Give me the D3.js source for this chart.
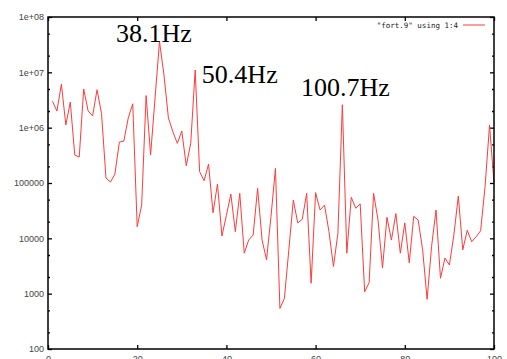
<!DOCTYPE html>
<html>
<head>
<meta charset="utf-8">
<script src="https://cdn.jsdelivr.net/npm/d3@7"></script>
<style>
  body { margin: 0; background: #fff; }
  svg { display: block; }
</style>
</head>
<body>
<div class="svgClass"></div>
<script>
// column 4 of fort.9, one value per row (row 1..100)
var values = [
  3.0e6, 2.0e6, 6.1e6, 1.12e6, 2.9e6, 3.2e5, 2.95e5, 5.0e6, 2.0e6, 1.63e6,
  4.85e6, 1.8e6, 1.23e5, 1.04e5, 1.45e5, 5.5e5, 5.7e5, 1.5e6, 2.7e6, 1.62e4,
  4.0e4, 3.8e6, 3.2e5, 3.4e6, 3.6e7, 9.0e6, 1.5e6, 8.4e5, 5.2e5, 8.7e5,
  2.05e5, 5.2e5, 1.1e7, 1.6e5, 1.1e5, 2.2e5, 2.9e4, 9.6e4, 1.1e4, 2.6e4,
  6.3e4, 1.32e4, 6.5e4, 5.4e3, 9.3e3, 1.15e4, 8.0e4, 9.3e3, 4.1e3, 2.5e4,
  1.84e5, 540, 820, 6.2e3, 4.9e4, 1.9e4, 2.2e4, 6.5e4, 1.54e3, 6.7e4,
  3.25e4, 4.0e4, 1.32e4, 3.1e3, 1.23e4, 2.6e6, 5.4e3, 5.5e4, 3.5e4, 4.2e4,
  1.08e3, 1.58e3, 6.5e4, 2.14e4, 2.9e3, 2.4e4, 9.3e3, 2.8e4, 5.4e3, 1.9e4,
  3.6e3, 2.5e4, 2.14e4, 6.2e3, 790, 7.1e3, 3.25e4, 1.9e3, 4.4e3, 3.3e3,
  1.15e4, 5.8e4, 6.2e3, 1.4e4, 8.7e3, 1.07e4, 1.37e4, 8.6e4, 1.12e6, 9.9e4
];
var xTicks = [0, 20, 40, 60, 80, 100];
var yTicks = [1e2, 1e3, 1e4, 1e5, 1e6, 1e7, 1e8];
var yTickLabels = ["100", "1000", "10000", "100000", "1e+06", "1e+07", "1e+08"];
var peakLabels = ["38.1Hz", "50.4Hz", "100.7Hz"];
var legendText = '"fort.9" using 1:4';

var W = 507, H = 359;
var mLeft = 48, mRight = 494, mTop = 17, mBottom = 349;

var svg = d3.select('.svgClass')
  .append("svg")
  .attr("width", W)
  .attr("height", H);

var x = d3.scaleLinear().domain([0, 100]).range([mLeft, mRight]);
var y = d3.scaleLog().domain([100, 1e8]).range([mBottom, mTop]);

// minor ticks at 2 and 5 of each decade
var minor = [];
yTicks.slice(0, -1).forEach(function (d) { minor.push(d * 2, d * 5); });

var tickFont = "'Liberation Sans', Arial, sans-serif";

// left axis
var yAxis = svg.append("g").attr("transform", "translate(" + mLeft + ",0)")
  .call(d3.axisLeft(y).tickValues(yTicks).tickFormat(function (d, i) { return yTickLabels[i]; })
    .tickSizeInner(-4).tickSizeOuter(0).tickPadding(4));
yAxis.select(".domain").remove();
yAxis.selectAll("text").attr("font-family", tickFont).attr("font-size", 9).attr("fill", "#444");

svg.append("g").attr("transform", "translate(" + mLeft + ",0)")
  .call(d3.axisLeft(y).tickValues(minor).tickFormat("").tickSizeInner(-2).tickSizeOuter(0))
  .select(".domain").remove();

// right axis (mirror)
svg.append("g").attr("transform", "translate(" + mRight + ",0)")
  .call(d3.axisRight(y).tickValues(yTicks).tickFormat("").tickSizeInner(-4).tickSizeOuter(0))
  .select(".domain").remove();
svg.append("g").attr("transform", "translate(" + mRight + ",0)")
  .call(d3.axisRight(y).tickValues(minor).tickFormat("").tickSizeInner(-2).tickSizeOuter(0))
  .select(".domain").remove();

// bottom axis, labels sit partly below the window like the original
var xAxis = svg.append("g").attr("transform", "translate(0," + mBottom + ")")
  .call(d3.axisBottom(x).tickValues(xTicks).tickSizeInner(-4).tickSizeOuter(0).tickPadding(7));
xAxis.select(".domain").remove();
xAxis.selectAll("text").attr("font-family", tickFont).attr("font-size", 9).attr("fill", "#444");

// top axis (mirror)
svg.append("g").attr("transform", "translate(0," + mTop + ")")
  .call(d3.axisTop(x).tickValues(xTicks).tickFormat("").tickSizeInner(-4).tickSizeOuter(0))
  .select(".domain").remove();

svg.selectAll(".tick line").attr("stroke", "#000").attr("stroke-width", 1.3);

// the data line
var line = d3.line()
  .x(function (d, i) { return x(i + 1); })
  .y(function (d) { return y(d); });

svg.append("path")
  .datum(values)
  .attr("d", line)
  .attr("fill", "none")
  .attr("stroke", "#ff3a3a")
  .attr("stroke-width", 1);

// border
svg.append("rect")
  .attr("x", mLeft).attr("y", mTop)
  .attr("width", mRight - mLeft).attr("height", mBottom - mTop)
  .attr("fill", "none")
  .attr("stroke", "#000")
  .attr("stroke-width", 1.5);

// legend
svg.append("text")
  .attr("x", 458).attr("y", 28)
  .attr("text-anchor", "end")
  .attr("font-family", "'DejaVu Sans Mono', monospace")
  .attr("font-size", 7.5)
  .attr("fill", "#222")
  .text(legendText);
svg.append("line")
  .attr("x1", 463).attr("x2", 485)
  .attr("y1", 25).attr("y2", 25)
  .attr("stroke", "#ff3a3a")
  .attr("stroke-width", 1);

// peak annotations (left edge / baseline in data units)
var labelX = [15.25, 34.5, 56.7];
var labelY = [3.6e7, 6.4e6, 3.7e6];
svg.selectAll(".peak")
  .data(peakLabels)
  .enter().append("text")
  .attr("class", "peak")
  .attr("x", function (d, i) { return x(labelX[i]); })
  .attr("y", function (d, i) { return y(labelY[i]); })
  .attr("font-family", "'Liberation Serif', 'Times New Roman', serif")
  .attr("font-size", 26)
  .attr("fill", "#000")
  .text(function (d) { return d; });
</script>
</body>
</html>
